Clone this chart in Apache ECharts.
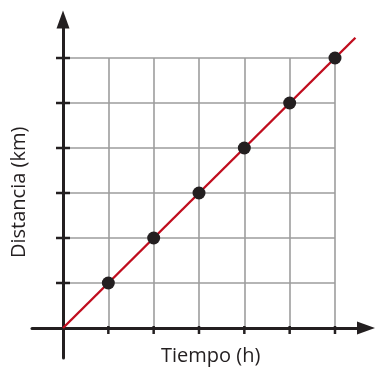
<!DOCTYPE html>
<html>
<head>
<meta charset="utf-8">
<script src="https://cdn.jsdelivr.net/npm/echarts@6/dist/echarts.min.js"></script>
<style>
html,body{margin:0;padding:0;background:#fff;}
#chart{width:375px;height:377px;}
</style>
</head>
<body>
<div id="chart"></div>
<script>
// ---- data ----
const tickValues = [1, 2, 3, 4, 5, 6];
const points = [[1, 1], [2, 2], [3, 3], [4, 4], [5, 5], [6, 6]];
const trendLine = [[0, 0], [6.45, 6.45]];
const gridMax = 6;
const xAxisName = 'Tiempo (h)';
const yAxisName = 'Distancia (km)';

const ink = '#231f20';
const gridLines = [];
tickValues.forEach(function (t) {
  gridLines.push({ coords: [[t, 0], [t, gridMax]] });
  gridLines.push({ coords: [[0, t], [gridMax, t]] });
});

const chart = echarts.init(document.getElementById('chart'), null, { renderer: 'canvas' });

function tickRender(isX) {
  return function (params, api) {
    const v = api.value(0);
    const p = isX ? api.coord([v, 0]) : api.coord([0, v]);
    const shape = isX
      ? { x1: p[0], y1: p[1] - 2, x2: p[0], y2: p[1] + 6 }
      : { x1: p[0] - 7, y1: p[1], x2: p[0] + 7, y2: p[1] };
    return { type: 'line', shape: shape, style: { stroke: ink, lineWidth: 2.5 }, z2: 10 };
  };
}

chart.setOption({
  animation: false,
  grid: { left: 32, right: 9, top: 19.5, bottom: 19, containLabel: false },
  xAxis: {
    type: 'value', min: -0.684, max: 6.684,
    axisLine: { onZero: true, symbol: ['none', 'triangle'], symbolSize: [13, 18], lineStyle: { color: ink, width: 3 } },
    axisTick: { show: false }, axisLabel: { show: false }, splitLine: { show: false }, z: 5
  },
  yAxis: {
    type: 'value', min: -0.667, max: 6.856,
    axisLine: { onZero: true, symbol: ['none', 'triangle'], symbolSize: [13, 18], lineStyle: { color: ink, width: 3 } },
    axisTick: { show: false }, axisLabel: { show: false }, splitLine: { show: false }, z: 5
  },
  series: [
    {
      type: 'lines', coordinateSystem: 'cartesian2d', data: gridLines, z: 1,
      lineStyle: { color: '#9d9d9d', width: 1.6, opacity: 1 }, silent: true
    },
    {
      type: 'custom', renderItem: tickRender(true), data: tickValues.map(function (t) { return [t]; }), z: 6, silent: true
    },
    {
      type: 'custom', renderItem: tickRender(false), data: tickValues.map(function (t) { return [t]; }), z: 6, silent: true
    },
    {
      type: 'line', data: trendLine, symbol: 'none', z: 7,
      lineStyle: { color: '#c00d1e', width: 2.4 }
    },
    {
      type: 'scatter', data: points, symbol: 'circle', symbolSize: 13, z: 8,
      itemStyle: { color: ink, opacity: 1 }
    }
  ],
  graphic: [
    {
      type: 'text', left: 161, top: 346,
      style: { text: xAxisName, font: '20px "Open Sans"', fill: ink }
    },
    {
      type: 'text', x: 9, y: 258, rotation: Math.PI / 2,
      style: { text: yAxisName, font: '20px "Open Sans"', fill: ink, textVerticalAlign: 'top' }
    }
  ]
});
</script>
</body>
</html>
